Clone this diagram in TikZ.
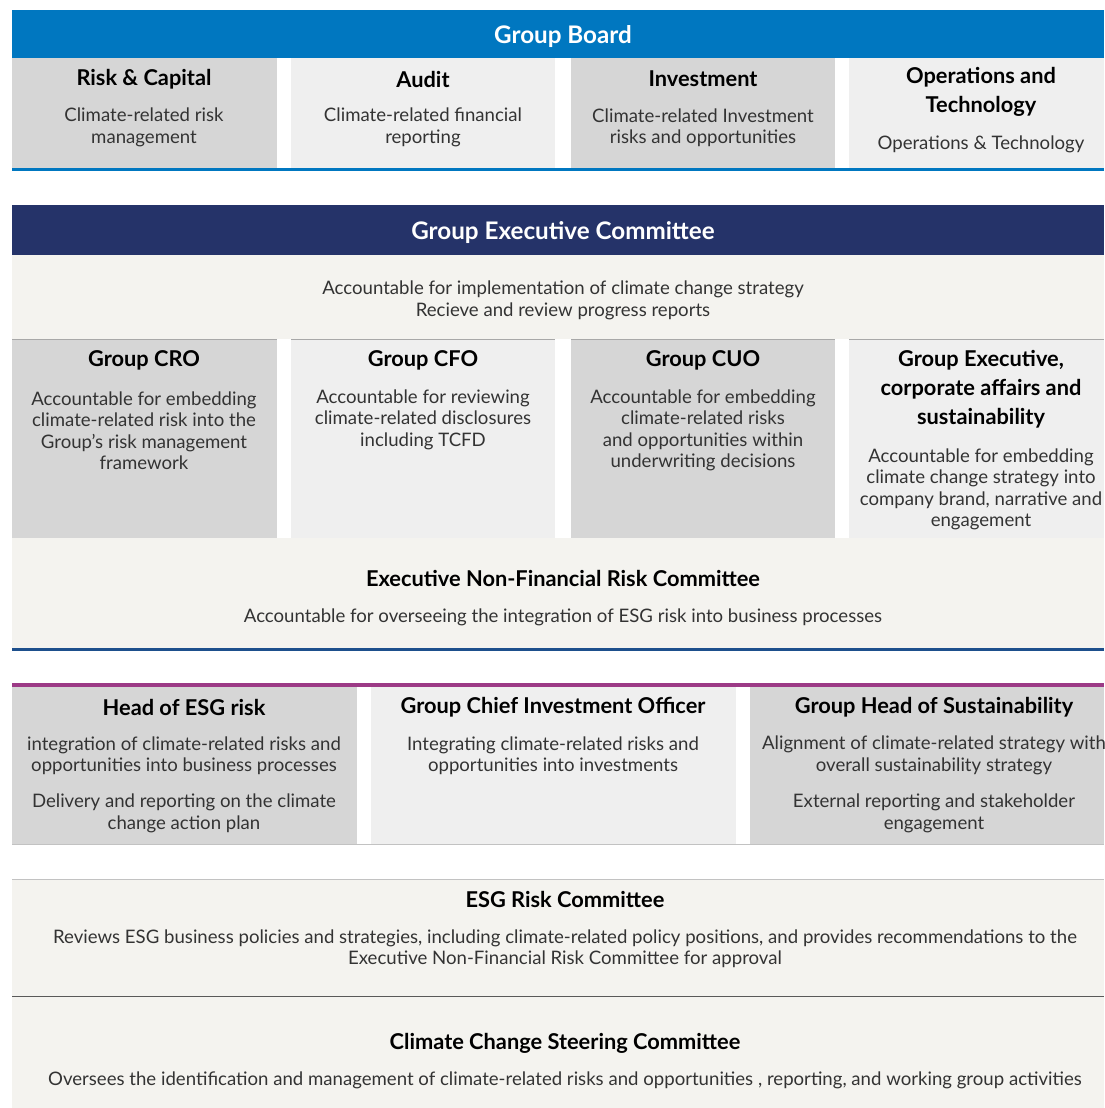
\documentclass[tikz,border=0pt]{standalone}
\usepackage{fontspec}
\setmainfont{Lato}
\definecolor{boardblue}{HTML}{0077C0}
\definecolor{execnavy}{HTML}{253369}
\definecolor{execline}{HTML}{1D4F8C}
\definecolor{esgpurple}{HTML}{9C3A86}
\definecolor{darkcell}{HTML}{D6D6D6}
\definecolor{lightcell}{HTML}{EFEFEF}
\definecolor{band}{HTML}{F4F3EF}
\definecolor{bodytext}{HTML}{333333}
\definecolor{rulegray}{HTML}{A8A8A8}
\tikzset{
  box/.style={inner sep=0pt, outer sep=0pt, anchor=north west},
  graybox/.style={box, fill=darkcell},
  lightbox/.style={box, fill=lightcell},
  bandbox/.style={box, fill=band},
  title/.style={text=white, font=\fontsize{24.2}{28}\selectfont\bfseries, inner sep=0pt, yshift=-2.5pt},
  head/.style={text=black, font=\fontsize{21.8}{29}\selectfont\bfseries, align=center, inner sep=0pt, yshift=-2pt},
  body/.style={text=bodytext, font=\fontsize{18.6}{21.5}\selectfont, align=center, inner sep=0pt, yshift=-2.5pt}
}
\begin{document}
\begin{tikzpicture}[x=1pt, y=-1pt]
	\useasboundingbox [fill=white] (0,0) rectangle (1104,1108);
	
	% Group Board
	\node (board) [box, fill=boardblue, minimum width=1092pt, minimum height=48pt] at (12,10) {};
	\node (boardT) [title] at (563,34) {Group Board};
	\node (riskcap) [graybox, minimum width=265pt, minimum height=110pt] at (12,58) {};
	\node (audit) [lightbox, minimum width=264pt, minimum height=110pt] at (291,58) {};
	\node (invest) [graybox, minimum width=264pt, minimum height=110pt] at (571,58) {};
	\node (opstech) [lightbox, minimum width=255pt, minimum height=110pt] at (849,58) {};
	\node (riskcapH) [head] at (144,77) {Risk \& Capital};
	\node (riskcapB) [body] at (144,125) {Climate-related risk\\management};
	\node (auditH) [head] at (423,77) {Audit};
	\node (auditB) [body] at (423,125) {Climate-related financial\\reporting};
	\node (investH) [head] at (703,77) {Investment};
	\node (investB) [body] at (703,125) {Climate-related Investment\\risks and opportunities};
	\node (opstechH) [head] at (981,90) {Operations and\\Technology};
	\node (opstechB) [body] at (981,142) {Operations \& Technology};
	\fill [boardblue] (12,168) rectangle (1104,171);
	
	% Group Executive Committee
	\node (exec) [box, fill=execnavy, minimum width=1092pt, minimum height=50pt] at (12,205) {};
	\node (execT) [title] at (563,230) {Group Executive Committee};
	\node (execband) [bandbox, minimum width=1092pt, minimum height=84pt] at (12,255) {};
	\node (execB) [body] at (563,298) {Accountable for implementation of climate change strategy\\Recieve and review progress reports};
	\node (cro) [graybox, minimum width=265pt, minimum height=199pt] at (12,339) {};
	\node (cfo) [lightbox, minimum width=264pt, minimum height=199pt] at (291,339) {};
	\node (cuo) [graybox, minimum width=264pt, minimum height=199pt] at (571,339) {};
	\node (gecas) [lightbox, minimum width=255pt, minimum height=199pt] at (849,339) {};
	\draw [rulegray, line width=0.8pt] (cro.north west) -- (cro.north east)
	      (cfo.north west) -- (cfo.north east)
	      (cuo.north west) -- (cuo.north east)
	      (gecas.north west) -- (gecas.north east);
	\node (croH) [head] at (144,358) {Group CRO};
	\node (croB) [body] at (144,428) {Accountable for embedding\\climate-related risk into the\\Group's risk management\\framework};
	\node (cfoH) [head] at (423,358) {Group CFO};
	\node (cfoB) [body] at (423,417) {Accountable for reviewing\\climate-related disclosures\\including TCFD};
	\node (cuoH) [head] at (703,358) {Group CUO};
	\node (cuoB) [body] at (703,428) {Accountable for embedding\\climate-related risks\\and opportunities within\\underwriting decisions};
	\node (gecasH) [head] at (981,387) {Group Executive,\\corporate affairs and\\sustainability};
	\node (gecasB) [body] at (981,487) {Accountable for embedding\\climate change strategy into\\company brand, narrative and\\engagement};
	\node (enfrc) [bandbox, minimum width=1092pt, minimum height=110pt] at (12,538) {};
	\node (enfrcH) [head] at (563,576) {Executive Non-Financial Risk Committee};
	\node (enfrcB) [body] at (563,615) {Accountable for overseeing the integration of ESG risk into business processes};
	\fill [execline] (12,648) rectangle (1104,651);
	
	% Heads
	\fill [esgpurple] (12,683) rectangle (1104,687);
	\node (esgrisk) [graybox, minimum width=345pt, minimum height=157pt] at (12,687) {};
	\node (gcio) [lightbox, minimum width=365pt, minimum height=157pt] at (371,687) {};
	\node (ghsust) [graybox, minimum width=354pt, minimum height=157pt] at (750,687) {};
	\draw [rulegray!70, line width=0.8pt] (esgrisk.south west) -- (ghsust.south east);
	\node (esgriskH) [head] at (184,705) {Head of ESG risk};
	\node (esgriskB) [body] at (184,753) {integration of climate-related risks and\\opportunities into business processes};
	\node (esgriskC) [body] at (184,811) {Delivery and reporting on the climate\\change action plan};
	\node (gcioH) [head] at (553,705) {Group Chief Investment Officer};
	\node (gcioB) [body] at (553,753) {Integrating climate-related risks and\\opportunities into investments};
	\node (ghsustH) [head] at (934,705) {Group Head of Sustainability};
	\node (ghsustB) [body] at (934,753) {Alignment of climate-related strategy with\\overall sustainability strategy};
	\node (ghsustC) [body] at (934,811) {External reporting and stakeholder\\engagement};
	
	% Committees
	\node (esgrc) [bandbox, minimum width=1092pt, minimum height=117pt] at (12,879) {};
	\draw [rulegray!70, line width=0.8pt] (esgrc.north west) -- (esgrc.north east);
	\node (esgrcH) [head] at (565,897) {ESG Risk Committee};
	\node (esgrcB) [body] at (565,946) {Reviews ESG business policies and strategies, including climate-related policy positions, and provides recommendations to the\\Executive Non-Financial Risk Committee for approval};
	\node (ccsc) [bandbox, minimum width=1092pt, minimum height=111pt] at (12,997) {};
	\draw [black!65, line width=0.9pt] (esgrc.south west) -- (esgrc.south east);
	\node (ccscH) [head] at (565,1041) {Climate Change Steering Committee};
	\node (ccscB) [body] at (565,1078) {Oversees the identification and management of climate-related risks and opportunities , reporting, and working group activities};
\end{tikzpicture}
\end{document}
